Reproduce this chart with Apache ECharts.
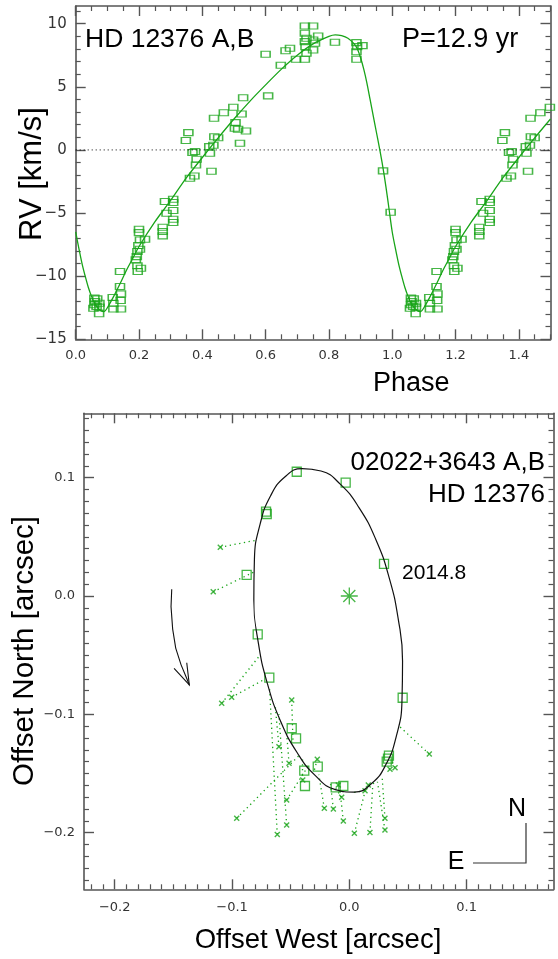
<!DOCTYPE html>
<html>
<head>
<meta charset="utf-8">
<script src="https://cdn.jsdelivr.net/npm/echarts@6/dist/echarts.min.js"></script>
<style>
html,body{margin:0;padding:0;background:#fff}
#chart{width:558px;height:959px}
</style>
</head>
<body>
<div id="chart"></div>
<script>
// ---------- Radial velocity curve (top panel) ----------
// measured RVs of HD 12376, folded on the 12.9 yr period (phase 0..1)
const rvPhase = [
  0.056, 0.059, 0.061, 0.059, 0.066, 0.068, 0.075, 0.075, 0.074,
  0.117, 0.119, 0.119, 0.143, 0.142, 0.143, 0.140, 0.140,
  0.200, 0.200, 0.203, 0.219, 0.198, 0.203, 0.195, 0.193, 0.190, 0.195, 0.206, 0.196,
  0.275, 0.275, 0.275, 0.282, 0.287, 0.308, 0.308, 0.308, 0.308, 0.308,
  0.361, 0.375, 0.356, 0.348, 0.377, 0.369, 0.382, 0.380, 0.429, 0.422, 0.424, 0.435, 0.438, 0.450, 0.437,
  0.468, 0.498, 0.524, 0.529, 0.505, 0.503, 0.513, 0.538, 0.519,
  0.608, 0.600, 0.648, 0.663, 0.677, 0.696,
  0.724, 0.750, 0.724, 0.729, 0.724, 0.750, 0.756, 0.750, 0.729, 0.724, 0.766, 0.726,
  0.819, 0.887, 0.889, 0.906, 0.887, 0.887, 0.971, 0.995
];
const rvValue = [
  -12.54, -11.74, -12.00, -12.27, -12.40, -11.80, -12.14, -12.45, -12.98,
  -11.69, -12.14, -12.60, -12.60, -11.93, -11.40, -10.82, -9.63,
  -6.28, -6.55, -7.13, -7.07, -7.57, -7.86, -8.05, -8.45, -8.71, -9.18, -9.37, -9.63,
  -6.12, -6.46, -6.81, -4.09, -5.01, -3.90, -4.16, -4.80, -5.49, -5.75,
  -2.24, -2.06, 1.37, 0.74, -0.13, -0.21, -0.74, -1.19, -1.69, 0.26, -0.26, 0.37, 1.05, 0.97, 2.51,
  2.95, 3.38, 2.85, 4.14, 2.16, 1.72, 1.64, 1.50, 0.53,
  4.28, 7.58, 6.70, 7.86, 8.05, 7.18,
  9.82, 9.82, 9.24, 8.84, 8.58, 8.71, 8.45, 7.92, 7.66, 7.18, 9.03, 8.18,
  8.53, 8.50, 8.18, 8.26, 7.78, 7.18, -1.66, -4.93
];
// orbital fit, sampled over one period
const fitPhase = [
  0.00, 0.01, 0.02, 0.03, 0.04, 0.05, 0.06, 0.07, 0.08, 0.09, 0.10, 0.12, 0.14, 0.16, 0.18, 0.20,
  0.25, 0.30, 0.35, 0.40, 0.45, 0.50, 0.55, 0.60, 0.65, 0.70, 0.75, 0.80, 0.82, 0.84, 0.86,
  0.88, 0.89, 0.90, 0.91, 0.92, 0.93, 0.94, 0.95, 0.96, 0.97, 0.98, 0.99, 1.00
];
const fitRV = [
  -6.5, -7.8, -9.0, -10.0, -10.9, -11.6, -12.15, -12.5, -12.75, -12.8, -12.5, -11.6, -10.6, -9.55, -8.6, -7.65,
  -5.7, -4.0, -2.2, -0.6, 0.95, 2.45, 3.85, 5.15, 6.4, 7.5, 8.4, 9.0, 9.12, 9.05, 8.85,
  8.4, 8.0, 7.3, 6.4, 5.3, 4.0, 2.7, 1.4, 0.1, -1.3, -2.9, -4.7, -6.5
];
const rvXTicks = [0.0, 0.2, 0.4, 0.6, 0.8, 1.0, 1.2, 1.4];
const rvYTicks = [-15, -10, -5, 0, 5, 10];

// ---------- Visual orbit (bottom panel) ----------
// accurate speckle measurements (West, North) in arcsec
const sqWest  = [-0.0448, -0.0031, -0.0710, -0.0704, 0.0296, -0.0875, -0.0781, -0.0682, 0.0455, -0.0491,
                 -0.0454, -0.0384, -0.0269, -0.0378, -0.0116, -0.0051, 0.0338, 0.0319, 0.0330];
const sqNorth = [0.105, 0.0958, 0.0713, 0.0693, 0.0271, 0.0178, -0.0324, -0.069, -0.086, -0.1118,
                 -0.1203, -0.1476, -0.1443, -0.1606, -0.1617, -0.1606, -0.135, -0.140, -0.1375];
// less accurate measurements and their ephemeris positions on the orbit
const crWest  = [-0.110, -0.116, -0.1088, -0.1003, -0.0491, -0.0600, -0.0514, -0.0273, -0.0397, -0.0065,
                 -0.0213, -0.0136, -0.0051, -0.0534, -0.096, -0.0534, -0.0614, 0.0043, 0.0176, 0.0304,
                 0.0304, 0.0134, 0.0162, 0.0347, 0.039, 0.0682, -0.0094];
const crNorth = [0.0412, 0.0036, -0.0907, -0.0856, -0.0879, -0.1274, -0.1414, -0.138, -0.1555, -0.1702,
                 -0.1795, -0.180, -0.1902, -0.1724, -0.1879, -0.1936, -0.2015, -0.2006, -0.1998, -0.1978,
                 -0.1879, -0.1646, -0.1598, -0.1465, -0.1451, -0.1336, -0.1598];
const ephWest  = [-0.080, -0.0818, -0.0761, -0.0715, -0.0480, -0.0633, -0.0534, -0.030, -0.040, -0.012,
                  -0.026, -0.016, -0.008, -0.034, -0.042, -0.060, -0.068, 0.014, 0.020, 0.024,
                  0.028, 0.004, 0.022, 0.032, 0.036, 0.0425, -0.010];
const ephNorth = [0.047, 0.020, -0.050, -0.070, -0.124, -0.091, -0.116, -0.148, -0.137, -0.162,
                  -0.151, -0.159, -0.164, -0.142, -0.134, -0.100, -0.078, -0.163, -0.160, -0.157,
                  -0.153, -0.166, -0.158, -0.145, -0.139, -0.110, -0.163];
// orbit ellipse outline, traced clockwise from the top (first step repeated to close it smoothly)
const orbWest  = [-0.0403, -0.0241, -0.0075, 0.0084, 0.0226, 0.0339, 0.0417, 0.0454, 0.0449, 0.0400,
                  0.0312, 0.0190, 0.0043, -0.0119, -0.0285, -0.0444, -0.0586, -0.0699, -0.0777, -0.0814,
                  -0.0809, -0.0760, -0.0672, -0.0550, -0.0403, -0.0241];
const orbNorth = [0.1077, 0.1056, 0.0943, 0.0745, 0.0478, 0.0158, -0.0193, -0.0550, -0.0889, -0.1188,
                  -0.1425, -0.1585, -0.1657, -0.1636, -0.1523, -0.1325, -0.1058, -0.0738, -0.0388, -0.0030,
                  0.0310, 0.0609, 0.0845, 0.1005, 0.1077, 0.1056];
// direction-of-motion arrow
const arcWest  = [-0.1514, -0.1520, -0.1506, -0.1480, -0.1435, -0.1385, -0.1364];
const arcNorth = [0.0057, -0.009, -0.028, -0.044, -0.058, -0.070, -0.0752];
const headWest  = [-0.1494, -0.1364, -0.1386];
const headNorth = [-0.0611, -0.0752, -0.0564];
const orbXTicks = [-0.2, -0.1, 0.0, 0.1];
const orbYTicks = [-0.2, -0.1, 0.0, 0.1];

// ---------- styling ----------
const GREEN = '#18a418';
const AXIS = '#555';
const minus = s => String(s).replace('-', '\u2212');

function minorValues(min, max, step, majors) {
  const out = [];
  const i0 = Math.ceil(min / step - 1e-9), i1 = Math.floor(max / step + 1e-9);
  for (let i = i0; i <= i1; i++) {
    const v = +(i * step).toFixed(6);
    if (!majors.some(m => Math.abs(m - v) < step / 10)) out.push(v);
  }
  return out;
}

// four axes per side pair: labelled major, minor, mirrored major, mirrored minor
function frameAxes(gridIndex, posA, posB, min, max, majors, minorStep, label) {
  const minors = minorValues(min, max, minorStep, majors);
  const base = {
    type: 'value', gridIndex, min, max, splitLine: { show: false },
    axisLine: { show: false, onZero: false }
  };
  return [
    Object.assign({}, base, {
      position: posA,
      axisLine: { show: true, onZero: false, lineStyle: { color: AXIS, width: 1.6 } },
      axisTick: { show: true, inside: true, length: 10, customValues: majors, lineStyle: { color: AXIS, width: 1.4 } },
      axisLabel: Object.assign({ show: true, customValues: majors, color: '#333', fontFamily: 'DejaVu Sans' }, label)
    }),
    Object.assign({}, base, {
      position: posA,
      axisTick: { show: true, inside: true, length: 5, customValues: minors, lineStyle: { color: AXIS, width: 1.2 } },
      axisLabel: { show: false }
    }),
    Object.assign({}, base, {
      position: posB,
      axisLine: { show: true, onZero: false, lineStyle: { color: AXIS, width: 1.6 } },
      axisTick: { show: true, inside: true, length: 10, customValues: majors, lineStyle: { color: AXIS, width: 1.4 } },
      axisLabel: { show: false }
    }),
    Object.assign({}, base, {
      position: posB,
      axisTick: { show: true, inside: true, length: 5, customValues: minors, lineStyle: { color: AXIS, width: 1.2 } },
      axisLabel: { show: false }
    })
  ];
}

// phase-folded data repeated over 1..1.5
const rvPoints = rvPhase.map((p, i) => [p, rvValue[i]]);
rvPhase.forEach((p, i) => { if (p <= 0.5) rvPoints.push([p + 1, rvValue[i]]); });
const fitPoints = fitPhase.map((p, i) => [p, fitRV[i]]);
fitPhase.forEach((p, i) => { if (p > 0 && p <= 0.5) fitPoints.push([p + 1, fitRV[i]]); });

const xAxes = [].concat(
  frameAxes(0, 'bottom', 'top', 0, 1.5, rvXTicks, 0.05,
    { fontSize: 13, margin: 10, formatter: v => v.toFixed(1) }),
  frameAxes(1, 'bottom', 'top', -0.2262, 0.1741, orbXTicks, 0.01,
    { fontSize: 13, margin: 12, formatter: v => minus(v.toFixed(1)) })
);
const yAxes = [].concat(
  frameAxes(0, 'left', 'right', -15, 11.4, rvYTicks, 1,
    { fontSize: 15, margin: 9, formatter: v => minus(v) }),
  frameAxes(1, 'left', 'right', -0.2479, 0.1544, orbYTicks, 0.01,
    { fontSize: 13, margin: 9, formatter: v => minus(v.toFixed(1)) })
);

const chart = echarts.init(document.getElementById('chart'), null, { renderer: 'canvas' });
const titleFont = { fontFamily: 'Liberation Sans, Arial, sans-serif', fill: '#000' };

chart.setOption({
  animation: false,
  backgroundColor: '#fff',
  grid: [
    { left: 75.7, top: 6, width: 474.8, height: 333.3 },
    { left: 84, top: 413.3, width: 469.5, height: 476 }
  ],
  xAxis: xAxes,
  yAxis: yAxes,
  series: [
    { // zero-velocity reference
      type: 'line', xAxisIndex: 0, yAxisIndex: 0, symbol: 'none', silent: true,
      data: [[0, 0], [1.5, 0]],
      lineStyle: { color: '#000', width: 1, type: [1, 3] }
    },
    { // orbital fit
      type: 'line', xAxisIndex: 0, yAxisIndex: 0, symbol: 'none', smooth: 0.3,
      data: fitPoints, lineStyle: { color: GREEN, width: 1.3 }
    },
    { // RV measurements
      type: 'scatter', xAxisIndex: 0, yAxisIndex: 0, symbol: 'rect', symbolSize: [9, 6],
      data: rvPoints,
      itemStyle: { color: 'rgba(0,0,0,0)', borderColor: GREEN, borderWidth: 1.3 }
    },
    { // orbit ellipse
      type: 'line', xAxisIndex: 4, yAxisIndex: 4, symbol: 'none', smooth: 0.5,
      data: orbWest.map((x, i) => [x, orbNorth[i]]),
      lineStyle: { color: '#111', width: 1.2 }
    },
    { // residual connectors
      type: 'lines', coordinateSystem: 'cartesian2d', xAxisIndex: 4, yAxisIndex: 4,
      data: crWest.map((x, i) => ({ coords: [[x, crNorth[i]], [ephWest[i], ephNorth[i]]] })),
      lineStyle: { color: GREEN, width: 1.3, type: [1.3, 3.5], opacity: 1 }
    },
    { // less accurate measurements
      type: 'scatter', xAxisIndex: 4, yAxisIndex: 4,
      symbol: 'path://M-1,-1L1,1M-1,1L1,-1', symbolSize: 5,
      data: crWest.map((x, i) => [x, crNorth[i]]),
      itemStyle: { color: 'rgba(0,0,0,0)', borderColor: GREEN, borderWidth: 1.4 }
    },
    { // speckle measurements
      type: 'scatter', xAxisIndex: 4, yAxisIndex: 4, symbol: 'rect', symbolSize: 9,
      data: sqWest.map((x, i) => [x, sqNorth[i]]),
      itemStyle: { color: 'rgba(0,0,0,0)', borderColor: GREEN, borderWidth: 1.3 }
    },
    { // primary component
      type: 'scatter', xAxisIndex: 4, yAxisIndex: 4,
      symbol: 'path://M0,-10L0,10M-10,0L10,0M-7.07,-7.07L7.07,7.07M-7.07,7.07L7.07,-7.07', symbolSize: 17,
      data: [[0, 0]],
      itemStyle: { color: 'rgba(0,0,0,0)', borderColor: GREEN, borderWidth: 1.3 }
    },
    { // direction of motion
      type: 'lines', coordinateSystem: 'cartesian2d', xAxisIndex: 4, yAxisIndex: 4, polyline: true,
      data: [
        { coords: arcWest.map((x, i) => [x, arcNorth[i]]) },
        { coords: headWest.map((x, i) => [x, headNorth[i]]) }
      ],
      lineStyle: { color: '#111', width: 1.1, opacity: 1 }
    }
  ],
  graphic: [
    { type: 'text', left: 85, top: 26, style: Object.assign({ text: 'HD 12376 A,B', fontSize: 26.5 }, titleFont) },
    { type: 'text', left: 402, top: 26, style: Object.assign({ text: 'P=12.9 yr', fontSize: 27 }, titleFont) },
    { type: 'text', left: 373, top: 370, style: Object.assign({ text: 'Phase', fontSize: 27 }, titleFont) },
    { type: 'text', x: 32, y: 174, rotation: Math.PI / 2,
      style: Object.assign({ text: 'RV [km/s]', fontSize: 31, align: 'center', verticalAlign: 'middle' }, titleFont) },
    { type: 'text', x: 25, y: 651, rotation: Math.PI / 2,
      style: Object.assign({ text: 'Offset North [arcsec]', fontSize: 29.5, align: 'center', verticalAlign: 'middle' }, titleFont) },
    { type: 'text', x: 318, y: 940,
      style: Object.assign({ text: 'Offset West [arcsec]', fontSize: 27.5, align: 'center', verticalAlign: 'middle' }, titleFont) },
    { type: 'text', x: 545, y: 463,
      style: Object.assign({ text: '02022+3643 A,B', fontSize: 26, align: 'right', verticalAlign: 'middle' }, titleFont) },
    { type: 'text', x: 545, y: 495,
      style: Object.assign({ text: 'HD 12376', fontSize: 26, align: 'right', verticalAlign: 'middle' }, titleFont) },
    { type: 'text', x: 402, y: 573,
      style: Object.assign({ text: '2014.8', fontSize: 21, align: 'left', verticalAlign: 'middle' }, titleFont) },
    { type: 'text', x: 517, y: 809,
      style: Object.assign({ text: 'N', fontSize: 25, align: 'center', verticalAlign: 'middle' }, titleFont) },
    { type: 'text', x: 456, y: 862,
      style: Object.assign({ text: 'E', fontSize: 25, align: 'center', verticalAlign: 'middle' }, titleFont) },
    { type: 'polyline', shape: { points: [[526, 823], [526, 863], [473, 863]] },
      style: { stroke: '#333', lineWidth: 1.2, fill: null } }
  ]
});
</script>
</body>
</html>
